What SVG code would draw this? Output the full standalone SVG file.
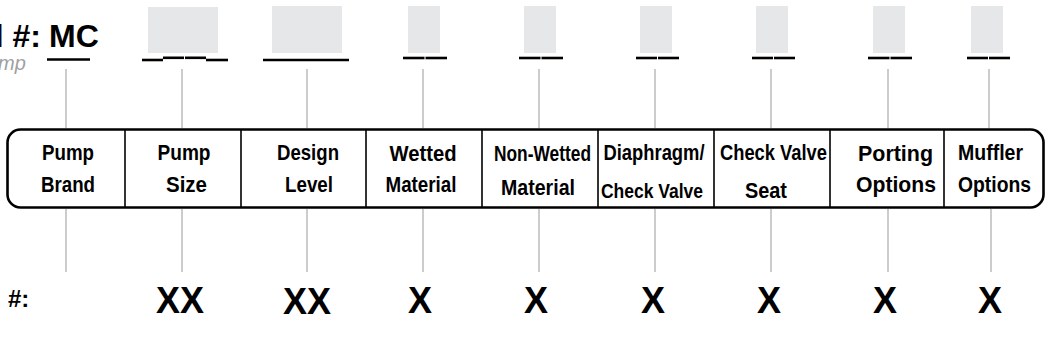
<svg xmlns="http://www.w3.org/2000/svg" width="1047" height="354" viewBox="0 0 1047 354">
<style>
.hdr{font-family:"Liberation Sans",Arial,sans-serif;font-weight:bold;font-size:32px;fill:#000}
.sub{font-family:"Liberation Sans",Arial,sans-serif;font-style:italic;font-size:20px;fill:#a0a0a0}
.lbl{font-family:"Liberation Sans",Arial,sans-serif;font-weight:bold;font-size:22px;fill:#000;text-anchor:middle}
.lbs{font-family:"Liberation Sans",Arial,sans-serif;font-weight:bold;font-size:20px;fill:#000;text-anchor:middle}
.val{font-family:"Liberation Sans",Arial,sans-serif;font-weight:bold;font-size:36px;fill:#000;text-anchor:middle}
.key{font-family:"Liberation Sans",Arial,sans-serif;font-weight:bold;font-size:24px;fill:#000}
.slot{fill:#e6e7e8}
.ul{stroke:#000;stroke-width:2.6;fill:none}
.conn{stroke:#aaaaaa;stroke-width:1.2;fill:none}
.div{stroke:#000;stroke-width:1.6}
</style>

<g id="header">
<text class="hdr" x="41" y="47" text-anchor="end">l #:</text>
<text class="hdr" x="49" y="47">MC</text>
<text class="sub" x="-2" y="70">mp</text>
</g>

<g id="connectors">
<line class="conn" x1="66" y1="69" x2="66" y2="128"/>
<line class="conn" x1="182" y1="69" x2="182" y2="128"/>
<line class="conn" x1="307" y1="69" x2="307" y2="128"/>
<line class="conn" x1="423" y1="69" x2="423" y2="128"/>
<line class="conn" x1="539" y1="69" x2="539" y2="128"/>
<line class="conn" x1="655" y1="69" x2="655" y2="128"/>
<line class="conn" x1="771" y1="69" x2="771" y2="128"/>
<line class="conn" x1="888" y1="69" x2="888" y2="128"/>
<line class="conn" x1="989" y1="69" x2="989" y2="128"/>
<line class="conn" x1="66" y1="209" x2="66" y2="272"/>
<line class="conn" x1="182" y1="209" x2="182" y2="272"/>
<line class="conn" x1="307" y1="209" x2="307" y2="272"/>
<line class="conn" x1="423" y1="209" x2="423" y2="272"/>
<line class="conn" x1="539" y1="209" x2="539" y2="272"/>
<line class="conn" x1="655" y1="209" x2="655" y2="272"/>
<line class="conn" x1="771" y1="209" x2="771" y2="272"/>
<line class="conn" x1="888" y1="209" x2="888" y2="272"/>
<line class="conn" x1="991" y1="209" x2="991" y2="272"/>
</g>

<g id="table">
<rect x="7.5" y="129.5" width="1036" height="78" rx="13" ry="13" fill="#fff" stroke="#000" stroke-width="2.6"/>
<line class="div" x1="125" y1="130" x2="125" y2="207"/>
<line class="div" x1="241" y1="130" x2="241" y2="207"/>
<line class="div" x1="366" y1="130" x2="366" y2="207"/>
<line class="div" x1="482" y1="130" x2="482" y2="207"/>
<line class="div" x1="598" y1="130" x2="598" y2="207"/>
<line class="div" x1="714" y1="130" x2="714" y2="207"/>
<line class="div" x1="830" y1="130" x2="830" y2="207"/>
<line class="div" x1="944" y1="130" x2="944" y2="207"/>
</g>

<g id="key-label">
<text class="key" x="8" y="307">#:</text>
</g>

<g id="pump-brand">
<line class="ul" x1="47" y1="59.5" x2="90" y2="59.5"/>
<text class="lbl" x="68" y="160" textLength="52" lengthAdjust="spacingAndGlyphs">Pump</text>
<text class="lbl" x="68" y="192" textLength="54" lengthAdjust="spacingAndGlyphs">Brand</text>
</g>

<g id="pump-size">
<rect class="slot" x="148" y="7" width="70" height="46"/>
<line class="ul" x1="142" y1="60" x2="163" y2="60"/>
<line class="ul" x1="163" y1="57.8" x2="184" y2="57.8"/>
<line class="ul" x1="185" y1="57.8" x2="206" y2="57.8"/>
<line class="ul" x1="206" y1="60" x2="228" y2="60"/>
<text class="lbl" x="184" y="160" textLength="53" lengthAdjust="spacingAndGlyphs">Pump</text>
<text class="lbl" x="186.5" y="192" textLength="41" lengthAdjust="spacingAndGlyphs">Size</text>
<text class="val" x="180" y="313">XX</text>
</g>

<g id="design-level">
<rect class="slot" x="272" y="6" width="70" height="47"/>
<line class="ul" x1="263" y1="60" x2="349" y2="60"/>
<text class="lbl" x="308" y="160" textLength="62" lengthAdjust="spacingAndGlyphs">Design</text>
<text class="lbl" x="309" y="192" textLength="48" lengthAdjust="spacingAndGlyphs">Level</text>
<text class="val" x="307" y="314">XX</text>
</g>

<g id="wetted-material">
<rect class="slot" x="408" y="6" width="32" height="47"/>
<line class="ul" x1="403" y1="58" x2="424.5" y2="58"/>
<line class="ul" x1="425.5" y1="58" x2="447" y2="58"/>
<text class="lbl" x="423" y="161" textLength="67" lengthAdjust="spacingAndGlyphs">Wetted</text>
<text class="lbl" x="421" y="192" textLength="71" lengthAdjust="spacingAndGlyphs">Material</text>
<text class="val" x="420" y="313">X</text>
</g>

<g id="non-wetted-material">
<rect class="slot" x="524" y="6" width="32" height="47"/>
<line class="ul" x1="519" y1="58" x2="540.5" y2="58"/>
<line class="ul" x1="541.5" y1="58" x2="563" y2="58"/>
<text class="lbl" x="542.5" y="161" textLength="97" lengthAdjust="spacingAndGlyphs">Non-Wetted</text>
<text class="lbl" x="538" y="195" textLength="74" lengthAdjust="spacingAndGlyphs">Material</text>
<text class="val" x="536" y="313">X</text>
</g>

<g id="diaphragm-check-valve">
<rect class="slot" x="640" y="6" width="32" height="47"/>
<line class="ul" x1="636" y1="58" x2="657" y2="58"/>
<line class="ul" x1="658" y1="58" x2="679" y2="58"/>
<text class="lbl" x="654" y="160" textLength="101" lengthAdjust="spacingAndGlyphs">Diaphragm/</text>
<text class="lbs" x="652" y="198" textLength="102" lengthAdjust="spacingAndGlyphs">Check Valve</text>
<text class="val" x="653" y="313">X</text>
</g>

<g id="check-valve-seat">
<rect class="slot" x="756" y="6" width="32" height="47"/>
<line class="ul" x1="752" y1="58" x2="773" y2="58"/>
<line class="ul" x1="774" y1="58" x2="795" y2="58"/>
<text class="lbl" x="773.5" y="160" textLength="107" lengthAdjust="spacingAndGlyphs">Check Valve</text>
<text class="lbl" x="766" y="198" textLength="42" lengthAdjust="spacingAndGlyphs">Seat</text>
<text class="val" x="769" y="313">X</text>
</g>

<g id="porting-options">
<rect class="slot" x="873" y="6" width="32" height="47"/>
<line class="ul" x1="868" y1="58" x2="889.5" y2="58"/>
<line class="ul" x1="890.5" y1="58" x2="912" y2="58"/>
<text class="lbl" x="895.5" y="161" textLength="75" lengthAdjust="spacingAndGlyphs">Porting</text>
<text class="lbl" x="896" y="192" textLength="80" lengthAdjust="spacingAndGlyphs">Options</text>
<text class="val" x="885" y="313">X</text>
</g>

<g id="muffler-options">
<rect class="slot" x="971" y="6" width="32" height="47"/>
<line class="ul" x1="967" y1="58" x2="988" y2="58"/>
<line class="ul" x1="989" y1="58" x2="1010" y2="58"/>
<text class="lbl" x="990.5" y="160" textLength="65" lengthAdjust="spacingAndGlyphs">Muffler</text>
<text class="lbl" x="994.5" y="192" textLength="73" lengthAdjust="spacingAndGlyphs">Options</text>
<text class="val" x="990" y="313">X</text>
</g>
</svg>
